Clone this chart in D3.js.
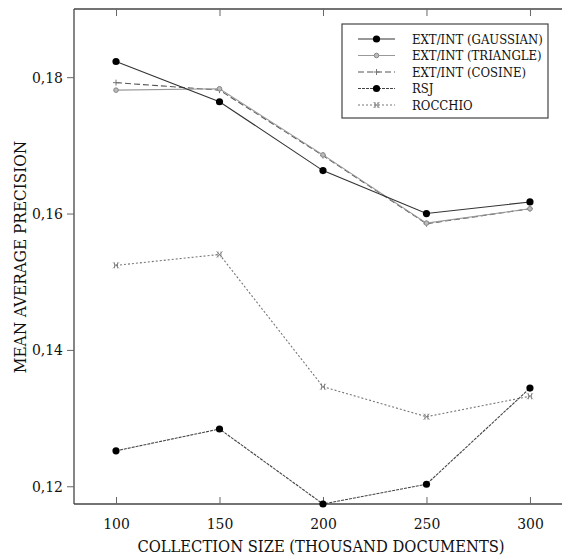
<!DOCTYPE html>
<html>
<head>
<meta charset="utf-8">
<script src="https://cdn.jsdelivr.net/npm/d3@7"></script>
<style>
  body { margin: 0; background: #fff; }
  text { font-family: "DejaVu Serif Condensed", "DejaVu Serif", serif; fill: #111; }
</style>
</head>
<body>
<div id="chart"></div>
<script>
// collection sizes (thousand documents)
var sizes = [100, 150, 200, 250, 300];

// mean average precision per method
var gaussian = [0.1823, 0.1764, 0.1663, 0.1600, 0.1617];
var triangle = [0.1781, 0.1783, 0.1686, 0.1586, 0.1607];
var cosine   = [0.1792, 0.1781, 0.1685, 0.1585, 0.1607];
var rsj      = [0.1252, 0.1284, 0.1174, 0.1203, 0.1344];
var rocchio  = [0.1524, 0.1540, 0.1346, 0.1302, 0.1332];

var seriesNames = ["EXT/INT (GAUSSIAN)", "EXT/INT (TRIANGLE)", "EXT/INT (COSINE)", "RSJ", "ROCCHIO"];
var yTicks = [0.12, 0.14, 0.16, 0.18];

var width = 562, height = 559;

var x = d3.scaleLinear().domain([79.7, 315]).range([74, 561]);
var y = d3.scaleLinear().domain([0.1174, 0.19]).range([504, 9]);

var svg = d3.select("#chart").append("svg")
  .attr("width", width)
  .attr("height", height);

// line styles per series
var styles = [
  { data: gaussian, stroke: "#333", dash: null, marker: "dot", mcolor: "#000" },
  { data: triangle, stroke: "#999", dash: null, marker: "ring", mcolor: "#888" },
  { data: cosine,   stroke: "#555", dash: "6,3", marker: "plus", mcolor: "#777" },
  { data: rsj,      stroke: "#444", dash: "3,1", marker: "dot", mcolor: "#000" },
  { data: rocchio,  stroke: "#777", dash: "2,2", marker: "cross", mcolor: "#777" }
];

function drawMarker(g, kind, color, cx, cy) {
  if (kind == "dot") {
    g.append("circle").attr("cx", cx).attr("cy", cy).attr("r", 3.6).style("fill", color);
  }
  else if (kind == "ring") {
    g.append("circle").attr("cx", cx).attr("cy", cy).attr("r", 2.3)
      .style("fill", "#bbb").style("stroke", color).style("stroke-width", 1);
  }
  else if (kind == "plus") {
    g.append("path").attr("d", "M" + (cx - 3) + "," + cy + "h6M" + cx + "," + (cy - 3) + "v6")
      .style("stroke", color).style("stroke-width", 1);
  }
  else {
    g.append("path")
      .attr("d", "M" + (cx - 3) + "," + (cy - 3) + "l6,6M" + (cx - 3) + "," + (cy + 3) + "l6,-6M" + (cx - 1.5) + "," + (cy - 3) + "v6M" + (cx + 1.5) + "," + (cy - 3) + "v6")
      .style("stroke", color).style("stroke-width", 0.8).style("fill", "none");
  }
}

// frame lines
svg.append("line").attr("x1", 74).attr("x2", 74).attr("y1", 9).attr("y2", 504)
  .style("stroke", "#444").style("stroke-width", 1.3);
svg.append("line").attr("x1", 74).attr("x2", 562).attr("y1", 504).attr("y2", 504)
  .style("stroke", "#444").style("stroke-width", 1.3);
svg.append("line").attr("x1", 74).attr("x2", 562).attr("y1", 9).attr("y2", 9)
  .style("stroke", "#444").style("stroke-width", 1.3);

// bottom axis (ticks inside)
var xAxis = svg.append("g").attr("transform", "translate(0,504)")
  .call(d3.axisBottom(x).tickValues(sizes).tickSize(-7).tickPadding(14));
xAxis.select(".domain").remove();
xAxis.selectAll("line").style("stroke", "#666");
xAxis.selectAll("text").style("font-size", "15.5px").style("font-family", null);

// top ticks
svg.append("g").attr("transform", "translate(0,9)")
  .call(d3.axisTop(x).tickValues(sizes).tickSize(-7).tickFormat(""))
  .call(function(g) { g.select(".domain").remove(); g.selectAll("line").style("stroke", "#666"); });

// left axis (ticks outside)
var yAxis = svg.append("g").attr("transform", "translate(74,0)")
  .call(d3.axisLeft(y).tickValues(yTicks).tickSize(7).tickPadding(4)
    .tickFormat(function(d) { return d3.format(".2f")(d).replace(".", ","); }));
yAxis.select(".domain").remove();
yAxis.selectAll("line").style("stroke", "#666");
yAxis.selectAll("text").style("font-size", "15.5px").style("font-family", null);

// axis titles
svg.append("text")
  .attr("x", 321).attr("y", 552)
  .attr("text-anchor", "middle")
  .style("font-size", "16.4px")
  .text("COLLECTION SIZE (THOUSAND DOCUMENTS)");

svg.append("text")
  .attr("transform", "translate(26,257) rotate(-90)")
  .attr("text-anchor", "middle")
  .style("font-size", "17px")
  .text("MEAN AVERAGE PRECISION");

var line = d3.line()
  .x(function(d, i) { return x(sizes[i]); })
  .y(function(d) { return y(d); });

// draw series, bottom-most style first
styles.slice().reverse().forEach(function(s) {
  var g = svg.append("g");
  g.append("path")
    .datum(s.data)
    .attr("d", line)
    .style("fill", "none")
    .style("stroke", s.stroke)
    .style("stroke-width", 1.1)
    .style("stroke-dasharray", s.dash);
  s.data.forEach(function(d, i) {
    drawMarker(g, s.marker, s.mcolor, x(sizes[i]), y(d));
  });
});

// legend
var legend = svg.append("g");
legend.append("rect")
  .attr("x", 342).attr("y", 24).attr("width", 206).attr("height", 94)
  .style("fill", "#fff").style("stroke", "#444").style("stroke-width", 1.2);

styles.forEach(function(s, i) {
  var ly = 39 + i * 16.5;
  var g = legend.append("g");
  g.append("line").attr("x1", 358).attr("x2", 395).attr("y1", ly).attr("y2", ly)
    .style("stroke", s.stroke).style("stroke-width", 1.1).style("stroke-dasharray", s.dash);
  drawMarker(g, s.marker, s.mcolor, 376.5, ly);
  g.append("text").attr("x", 412).attr("y", ly).attr("dy", "0.35em")
    .style("font-size", "13px")
    .text(seriesNames[i]);
});
</script>
</body>
</html>
